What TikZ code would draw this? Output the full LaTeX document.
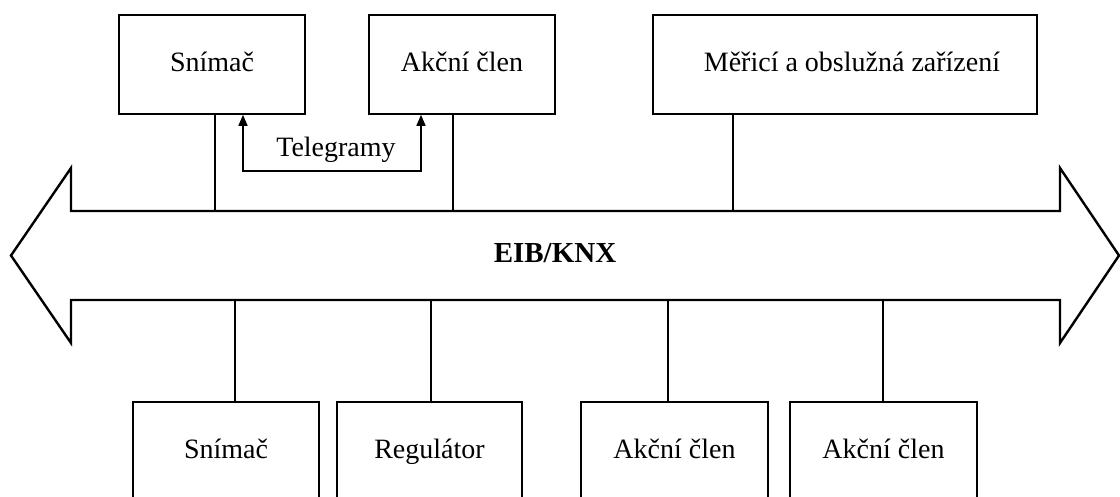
\documentclass[tikz,border=0pt]{standalone}
\usepackage{fontspec}
\setmainfont{Liberation Serif}
\usetikzlibrary{arrows.meta}
\begin{document}
\begin{tikzpicture}[x=1pt,y=-1pt,
  box/.style={draw,line width=1.6pt,minimum height=99pt,inner sep=0pt,
    text height=20pt,text depth=7pt,
    font=\fontsize{28}{32}\selectfont},
  link/.style={line width=1.6pt},
  tele/.style={line width=1.6pt,{Triangle[width=9pt,length=11pt]}-{Triangle[width=9pt,length=11pt]}},
  bus/.style={draw,line width=2.4pt,line join=miter}]
\useasboundingbox (0,0) rectangle (1120,496);
\clip (0,0) rectangle (1120,496);
% bus arrow
\coordinate (bl) at (11,255.5);
\coordinate (br) at (1119,255.5);
\draw[bus] (bl) -- (71,168) -- (71,211) -- (1060,211) -- (1060,168) -- (br)
  -- (1060,343) -- (1060,300) -- (71,300) -- (71,343) -- cycle;
\node[font=\fontsize{29}{32}\selectfont\bfseries] (bus) at (555,253) {EIB/KNX};
% top boxes
\node[box,minimum width=186pt] (s1) at (212,64.5) {Snímač};
\node[box,minimum width=186pt] (a1) at (462,64.5) {Akční člen};
\node[box,minimum width=384pt] (m1) at (845,64.5) {\hspace*{14pt}Měřicí a obslužná zařízení};
% bottom boxes
\node[box,minimum width=186pt] (s2) at (226,451.5) {Snímač};
\node[box,minimum width=185pt] (r2) at (429.5,451.5) {Regulátor};
\node[box,minimum width=187pt] (a2) at (674.5,451.5) {Akční člen};
\node[box,minimum width=187pt] (a3) at (883.5,451.5) {Akční člen};
% bus taps
\coordinate (t1) at (215,211);
\coordinate (t2) at (453,211);
\coordinate (t3) at (733,211);
\coordinate (b1) at (235,300);
\coordinate (b2) at (431,300);
\coordinate (b3) at (668,300);
\coordinate (b4) at (883,300);
\draw[link] (t1 |- s1.south) -- (t1);
\draw[link] (t2 |- a1.south) -- (t2);
\draw[link] (t3 |- m1.south) -- (t3);
\draw[link] (b1) -- (b1 |- s2.north);
\draw[link] (b2) -- (b2 |- r2.north);
\draw[link] (b3) -- (b3 |- a2.north);
\draw[link] (b4) -- (b4 |- a3.north);
% telegrams
\coordinate (tl) at (243,171);
\coordinate (tr) at (421,171);
\draw[tele] (tl |- s1.south) -- (tl) -- (tr) -- (tr |- a1.south);
\node[font=\fontsize{28}{32}\selectfont] (tg) at (336,150) {Telegramy};
\end{tikzpicture}
\end{document}
